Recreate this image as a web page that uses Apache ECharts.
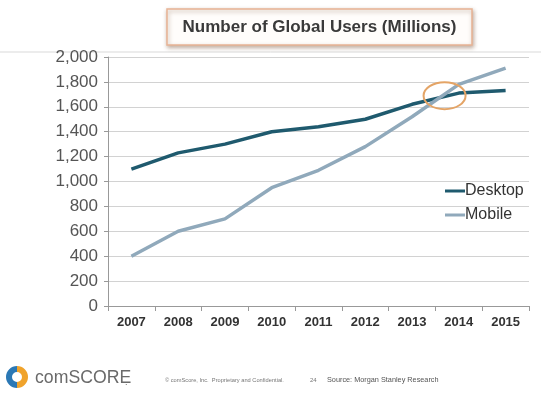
<!DOCTYPE html>
<html>
<head>
<meta charset="utf-8">
<script src="https://cdn.jsdelivr.net/npm/echarts@6/dist/echarts.min.js"></script>
<style>
html,body{margin:0;padding:0;background:#fff;}
#main{width:541px;height:418px;}
</style>
</head>
<body>
<div id="main"></div>
<script>
var years = ['2007','2008','2009','2010','2011','2012','2013','2014','2015'];
var desktop = [1100, 1230, 1300, 1400, 1440, 1500, 1620, 1710, 1730];
var mobile = [400, 600, 700, 950, 1090, 1280, 1520, 1780, 1910];
var yTicks = {min: 0, max: 2000, interval: 200};

var chart = echarts.init(document.getElementById('main'), null, {renderer: 'canvas'});
var FONT = '"Liberation Sans", Arial, Helvetica, sans-serif';

var option = {
  animation: false,
  backgroundColor: '#ffffff',
  textStyle: {fontFamily: FONT},
  grid: {left: 108, right: 12, top: 57, bottom: 112, containLabel: false},
  legend: {
    orient: 'vertical',
    left: 440,
    top: 178,
    itemGap: 8,
    itemWidth: 20,
    itemHeight: 3,
    icon: 'rect',
    textStyle: {fontSize: 16, color: '#333', fontFamily: FONT, padding: [0,0,0,-5]},
    data: ['Desktop', 'Mobile']
  },
  xAxis: {
    type: 'category',
    data: years,
    boundaryGap: true,
    axisLine: {lineStyle: {color: '#999', width: 1}},
    axisTick: {show: true, inside: false, length: 5, lineStyle: {color: '#999'}},
    axisLabel: {fontSize: 13, fontWeight: 'bold', color: '#333', margin: 10, fontFamily: FONT},
    splitLine: {show: false}
  },
  yAxis: {
    type: 'value',
    min: yTicks.min,
    max: yTicks.max,
    interval: yTicks.interval,
    axisLine: {show: true, lineStyle: {color: '#999'}},
    axisTick: {show: true, length: 4, lineStyle: {color: '#999'}},
    axisLabel: {
      fontSize: 17, color: '#555', margin: 10, fontFamily: FONT,
      formatter: function (v) { return v.toLocaleString('en-US'); }
    },
    splitLine: {lineStyle: {color: '#d2d2d2', width: 1}}
  },
  series: [
    {
      name: 'Desktop', type: 'line', data: desktop,
      symbol: 'none', smooth: false,
      lineStyle: {color: '#1f5a6e', width: 3.5},
      itemStyle: {color: '#1f5a6e'}
    },
    {
      name: 'Mobile', type: 'line', data: mobile,
      symbol: 'none', smooth: false,
      lineStyle: {color: '#90a9bb', width: 3.5},
      itemStyle: {color: '#90a9bb'}
    }
  ]
};
chart.setOption(option);

// find the crossing of the two series and circle it
function crossing() {
  for (var i = 0; i < years.length - 1; i++) {
    var d0 = desktop[i] - mobile[i], d1 = desktop[i+1] - mobile[i+1];
    if (d0 > 0 && d1 <= 0) {
      var t = d0 / (d0 - d1);
      var a = chart.convertToPixel({seriesIndex: 0}, [i, desktop[i]]);
      var b = chart.convertToPixel({seriesIndex: 0}, [i+1, desktop[i+1]]);
      return [a[0] + (b[0]-a[0])*t, a[1] + (b[1]-a[1])*t];
    }
  }
  return [0,0];
}
var c = crossing();

chart.setOption({
  graphic: [
    // separator under title
    {type: 'line', shape: {x1: 0, y1: 52, x2: 541, y2: 52}, style: {stroke: '#d9d9d9', lineWidth: 1}, z: 0},
    // title box
    {type: 'rect', shape: {x: 167, y: 9, width: 305, height: 36},
      style: {fill: '#fffdfb', stroke: '#e7b394', lineWidth: 1.5, shadowBlur: 4, shadowOffsetX: 1, shadowOffsetY: 2, shadowColor: 'rgba(120,80,50,0.45)'}, z: 10},
    {type: 'text', x: 319.5, y: 27, z: 11,
      style: {text: 'Number of Global Users (Millions)', fill: '#3a3a3a', font: 'bold 17px ' + FONT, textAlign: 'center', textVerticalAlign: 'middle'}},
    // crossing circle
    {type: 'ellipse', shape: {cx: c[0] + 5, cy: c[1] - 2, rx: 21, ry: 13.5},
      style: {fill: 'none', stroke: '#e4a466', lineWidth: 2}, z: 20},
    // logo
    {type: 'sector', shape: {cx: 17, cy: 377, r: 11, r0: 5, startAngle: Math.PI*0.5, endAngle: Math.PI*1.5}, style: {fill: '#2b78b5'}},
    {type: 'sector', shape: {cx: 17, cy: 377, r: 11, r0: 5, startAngle: -Math.PI*0.5, endAngle: Math.PI*0.5}, style: {fill: '#f0a32b'}},
    {type: 'text', x: 35, y: 378, scaleX: 0.93, style: {text: 'comSCORE', fill: '#6a6a6a', font: '19px ' + FONT, textVerticalAlign: 'middle'}},
    {type: 'text', x: 125, y: 383, style: {text: '.', fill: '#6a6a6a', font: '9px ' + FONT, textVerticalAlign: 'middle'}},
    {type: 'text', x: 165, y: 380, style: {text: '\u00a9 comScore, Inc.  Proprietary and Confidential.', fill: '#777', font: '5.7px ' + FONT, textVerticalAlign: 'middle'}},
    {type: 'text', x: 310, y: 380, style: {text: '24', fill: '#777', font: '6px ' + FONT, textVerticalAlign: 'middle'}},
    {type: 'text', x: 327, y: 380, style: {text: 'Source: Morgan Stanley Research', fill: '#555', font: '7.3px ' + FONT, textVerticalAlign: 'middle'}}
  ]
});
</script>
</body>
</html>
